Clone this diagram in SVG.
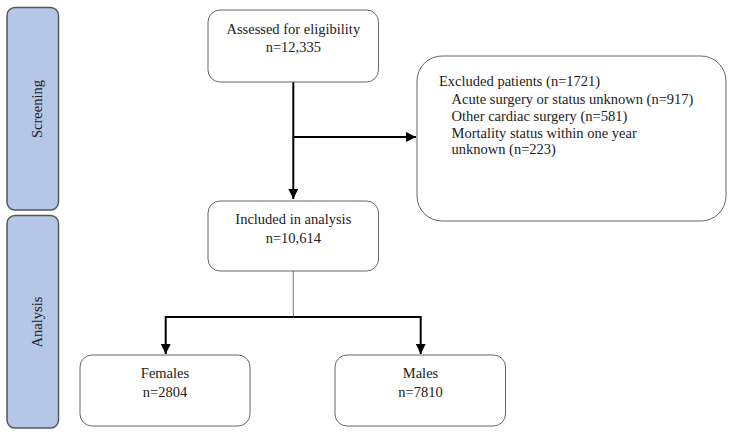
<svg xmlns="http://www.w3.org/2000/svg" width="734" height="435" viewBox="0 0 734 435">
<defs>
<style>
.bar{fill:#b4c7e7;stroke:#555;stroke-width:1.5}
.box{fill:#fff;stroke:#666;stroke-width:1}
text{fill:#222;font-size:14.5px}
.c{text-anchor:middle}
.ln{fill:none;stroke:#000;stroke-width:2}
.thin{fill:none;stroke:#777;stroke-width:1}
</style>
<marker id="ah" viewBox="0 0 10 10" refX="10" refY="5" markerWidth="5" markerHeight="5" markerUnits="strokeWidth" orient="auto">
<path d="M0,0 L10,5 L0,10 Z" fill="#000"/>
</marker>
</defs>
<rect width="734" height="435" fill="#fff"/>
<g font-family="Liberation Serif, Times New Roman, serif">
<g id="screening">
<rect class="bar" x="7" y="7.5" width="51.5" height="202.5" rx="8"/>
<text class="c" transform="translate(41.5,109) rotate(-90)" fill="#333">Screening</text>
</g>
<g id="analysis">
<rect class="bar" x="7" y="215.5" width="51.5" height="212.5" rx="8"/>
<text class="c" transform="translate(41.5,322) rotate(-90)" fill="#333">Analysis</text>
</g>
<g id="connectors">
<path class="ln" d="M293.3,82 V199" marker-end="url(#ah)"/>
<path class="ln" d="M293.3,137 H416" marker-end="url(#ah)"/>
<path class="thin" d="M293.3,271 V317"/>
<path class="ln" d="M293.3,317 H165.7 V354" marker-end="url(#ah)"/>
<path class="ln" d="M293.3,317 H420.7 V354" marker-end="url(#ah)"/>
</g>
<g id="assessed">
<rect class="box" x="208" y="10" width="170.5" height="72" rx="12"/>
<text class="c" x="293.3" y="34">Assessed for eligibility</text>
<text class="c" x="293.3" y="52">n=12,335</text>
</g>
<g id="excluded">
<rect class="box" x="417" y="56" width="309" height="165" rx="25"/>
<text x="439" y="86">Excluded patients (n=1721)</text>
<text x="451.5" y="104">Acute surgery or status unknown (n=917)</text>
<text x="451.5" y="121">Other cardiac surgery (n=581)</text>
<text x="451.5" y="137.5">Mortality status within one year</text>
<text x="451.5" y="154">unknown (n=223)</text>
</g>
<g id="included">
<rect class="box" x="208" y="201" width="170.5" height="70" rx="12"/>
<text class="c" x="293.3" y="224">Included in analysis</text>
<text class="c" x="293.3" y="243">n=10,614</text>
</g>
<g id="females">
<rect class="box" x="80" y="355" width="170" height="71" rx="12"/>
<text class="c" x="165" y="378">Females</text>
<text class="c" x="165" y="397">n=2804</text>
</g>
<g id="males">
<rect class="box" x="335" y="355" width="170.5" height="71" rx="12"/>
<text class="c" x="420.5" y="378">Males</text>
<text class="c" x="420.5" y="397">n=7810</text>
</g>
</g>
</svg>
